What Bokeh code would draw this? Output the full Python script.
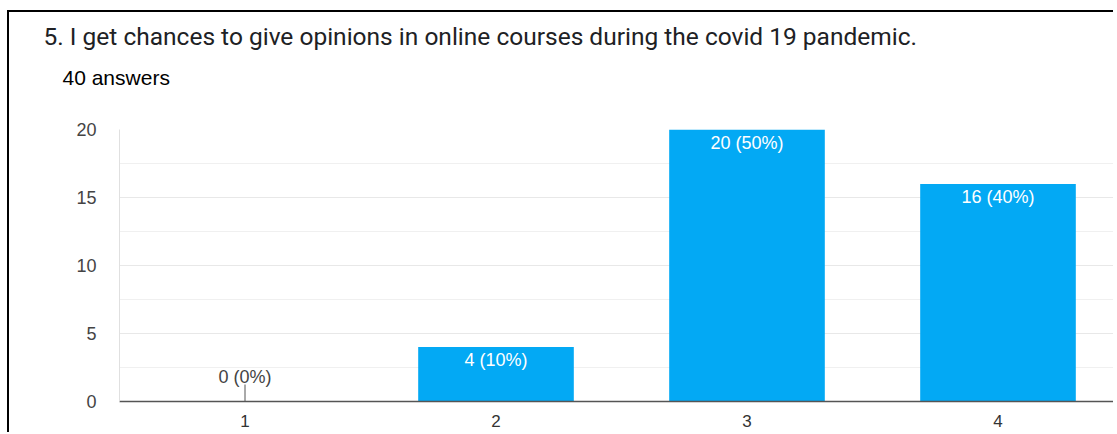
from bokeh.plotting import figure
from bokeh.models import ColumnDataSource, Range1d, FixedTicker, Title
from bokeh.core.properties import value
from bokeh.embed import file_html
from bokeh.resources import INLINE

question = "5. I get chances to give opinions in online courses during the covid 19 pandemic."
subtitle = "40 answers"
categories = [1, 2, 3, 4]
counts = [0, 4, 20, 16]
total = 40
y_ticks = [0, 5, 10, 15, 20]
y_minor = [2.5, 7.5, 12.5, 17.5]

labels = [f"{c} ({round(c / total * 100)}%)" for c in counts]

bar_src = ColumnDataSource(dict(x=categories, top=counts, label=labels))
inside = ColumnDataSource(dict(
    x=[x for x, c in zip(categories, counts) if c > 0],
    y=[c for c in counts if c > 0],
    label=[l for l, c in zip(labels, counts) if c > 0]))
zero = ColumnDataSource(dict(
    x=[x for x, c in zip(categories, counts) if c == 0],
    y=[c for c in counts if c == 0],
    label=[l for l, c in zip(labels, counts) if c == 0]))

W, H = 1106, 422
LEFT = 110
p = figure(width=W, height=H, output_backend="svg", toolbar_location=None,
           x_range=Range1d(0.5, 0.5 + (W - LEFT) / 251.0), y_range=Range1d(0, 20),
           min_border_left=LEFT, min_border_right=0, min_border_top=117,
           min_border_bottom=33)
p.title = None
p.margin = (10, 0, 0, 7)
p.styles = {"border-top": "2px solid #000", "border-left": "2px solid #000"}
p.outline_line_color = None
p.background_fill_color = "white"
p.border_fill_color = "white"

p.add_layout(Title(text=subtitle, text_font="Liberation Sans",
                   text_font_size="21px", text_font_style="normal",
                   text_color="#000000", align="left", offset=-57, standoff=82), "above")
p.add_layout(Title(text=question, text_font="Roboto",
                   text_font_size="24.5px", text_font_style="normal",
                   text_color="#202124", align="left", offset=-76, standoff=-56), "above")

p.vbar(x="x", top="top", width=0.62, source=bar_src, fill_color="#03a9f4",
       line_color=None)

p.ray(x="x", y="y", length=17, length_units="screen", angle=90, angle_units="deg",
      source=zero, line_color="#555555", line_width=1)

p.text(x="x", y="y", text="label", source=inside, text_align="center",
       text_baseline="middle", y_offset=13, text_color="white",
       text_font=value("Liberation Sans"), text_font_size="18px")
p.text(x="x", y="y", text="label", source=zero, text_align="center",
       text_baseline="middle", y_offset=-25, text_color="#444444",
       text_font=value("Liberation Sans"), text_font_size="18px")

p.xaxis.ticker = FixedTicker(ticks=categories)
p.xaxis.axis_line_color = "#555555"
p.xaxis.axis_line_width = 1.5
p.xaxis.major_tick_line_color = None
p.xaxis.major_tick_out = 0
p.xaxis.major_tick_in = 0
p.xaxis.minor_tick_line_color = None
p.xaxis.major_label_standoff = 13
p.xaxis.major_label_text_font = "Liberation Sans"
p.xaxis.major_label_text_font_size = "17px"
p.xaxis.major_label_text_color = "#333333"

p.yaxis.ticker = FixedTicker(ticks=y_ticks, minor_ticks=y_minor)
p.yaxis.axis_line_color = "#e0e0e0"
p.yaxis.major_tick_line_color = None
p.yaxis.major_tick_out = 0
p.yaxis.major_tick_in = 0
p.yaxis.minor_tick_line_color = None
p.yaxis.major_label_standoff = 19
p.yaxis.major_label_text_font = "Liberation Sans"
p.yaxis.major_label_text_font_size = "18px"
p.yaxis.major_label_text_color = "#444444"

p.xgrid.grid_line_color = None
p.ygrid.grid_line_color = "#e8e8e8"
p.ygrid.minor_grid_line_color = "#f0f0f0"

open("out.html", "w").write(file_html(p, INLINE))
